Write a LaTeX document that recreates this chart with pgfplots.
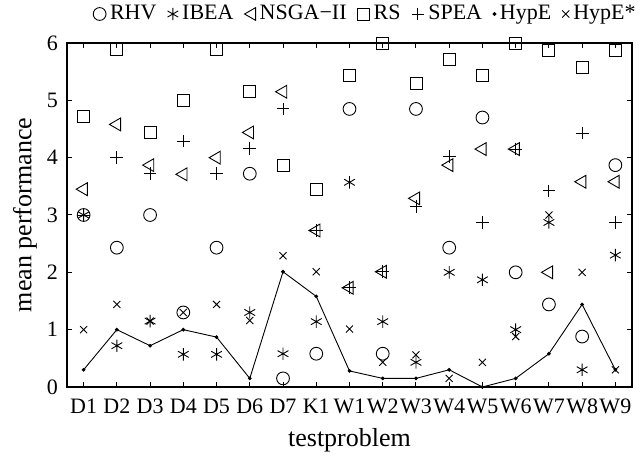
\documentclass[border=0pt]{standalone}
\usepackage{fontspec}
\setmainfont{Liberation Serif}
\usepackage{pgfplots}
\pgfplotsset{compat=1.18}
\begin{document}
\begin{tikzpicture}
\useasboundingbox (-33.5pt,-35.5pt) rectangle (288.5pt,193.5pt); % 644x458 px at 2px/pt
\begin{axis}[
    at={(0,0)}, anchor=south west,
    scale only axis,
    width=282.5pt, height=172pt,
    xmin=0.5, xmax=17.5,
    ymin=0, ymax=6,
    xtick={1,...,17},
    xticklabels={D1,D2,D3,D4,D5,D6,D7,K1,W1,W2,W3,W4,W5,W6,W7,W8,W9},
    ytick={0,1,2,3,4,5,6},
    /pgf/number format/assume math mode=true,
    ticklabel style={font=\fontsize{11}{13}\selectfont},
    xlabel={testproblem},
    ylabel={mean performance},
    major tick length=2.5pt,
    tick style={black, line width=0.5pt},
    axis line style={line width=0.9pt},
    xticklabel style={yshift=-2.5pt},
    yticklabel style={xshift=-1pt},
    every axis x label/.style={at={(axis description cs:0.5,0)}, anchor=center, yshift=-26.5pt,
        font=\fontsize{13}{15}\selectfont},
    every axis y label/.style={at={(axis description cs:0,0.5)}, anchor=center, xshift=-21pt, rotate=90,
        font=\fontsize{13}{15}\selectfont},
    legend columns=-1,
    legend style={draw=none, fill=none, at={(axis description cs:0.53,1)}, anchor=center, yshift=14.5pt,
        font=\fontsize{11}{12}\selectfont, inner sep=0pt,
        /tikz/every even column/.append style={column sep=3.5pt}},
    legend image code/.code={\draw[#1, only marks] plot coordinates {(0.08cm,0cm)};},
    every axis plot/.append style={black, line width=0.45pt},
    clip=false,
]
% RHV
\addplot[only marks, mark=o, mark size=3.2pt] coordinates {
(1,3.0) (2,2.43) (3,3.0) (4,1.3) (5,2.43) (6,3.72) (7,0.15) (8,0.58) (9,4.85)
(10,0.58) (11,4.85) (12,2.43) (13,4.70) (14,2.0) (15,1.44) (16,0.88) (17,3.87)};
% IBEA
\addplot[only marks, mark=asterisk, mark size=3.1pt] coordinates {
(1,3.0) (2,0.72) (3,1.15) (4,0.57) (5,0.57) (6,1.3) (7,0.58) (8,1.14) (9,3.57)
(10,1.14) (11,0.43) (12,2.0) (13,1.87) (14,1.0) (15,2.87) (16,0.30) (17,2.30)};
% NSGA-II
\addplot[only marks, mark=triangle, mark size=3.7pt, mark options={rotate=90}] coordinates {
(1,3.45) (2,4.58) (3,3.87) (4,3.71) (5,4.0) (6,4.44) (7,5.15) (8,2.73) (9,1.73)
(10,2.01) (11,3.29) (12,3.87) (13,4.15) (14,4.15) (15,2.0) (16,3.58) (17,3.58)};
% RS
\addplot[only marks, mark=square, mark size=3.0pt] coordinates {
(1,4.72) (2,5.88) (3,4.44) (4,5.0) (5,5.88) (6,5.15) (7,3.86) (8,3.44) (9,5.44)
(10,6.0) (11,5.30) (12,5.72) (13,5.44) (14,6.0) (15,5.87) (16,5.58) (17,5.87)};
% SPEA
\addplot[only marks, mark=+, mark size=3.2pt] coordinates {
(1,3.0) (2,4.0) (3,3.73) (4,4.29) (5,3.73) (6,4.16) (7,4.85) (8,2.73) (9,1.73)
(10,2.01) (11,3.15) (12,4.02) (13,2.87) (14,4.15) (15,3.42) (16,4.43) (17,2.87)};
% HypE
\addplot[mark=*, mark size=0.7pt] coordinates {
(1,0.30) (2,1.0) (3,0.72) (4,1.0) (5,0.87) (6,0.15) (7,2.01) (8,1.58) (9,0.28)
(10,0.15) (11,0.15) (12,0.30) (13,0.0) (14,0.15) (15,0.58) (16,1.44) (17,0.30)};
% HypE*
\addplot[only marks, mark=x, mark size=2.5pt] coordinates {
(1,1.0) (2,1.44) (3,1.15) (4,1.3) (5,1.44) (6,1.16) (7,2.29) (8,2.01) (9,1.01)
(10,0.43) (11,0.56) (12,0.15) (13,0.43) (14,0.88) (15,3.0) (16,2.0) (17,0.30)};
\legend{RHV,IBEA,NSGA\textminus II,RS,SPEA,HypE,HypE*}
\end{axis}
\end{tikzpicture}
\end{document}
